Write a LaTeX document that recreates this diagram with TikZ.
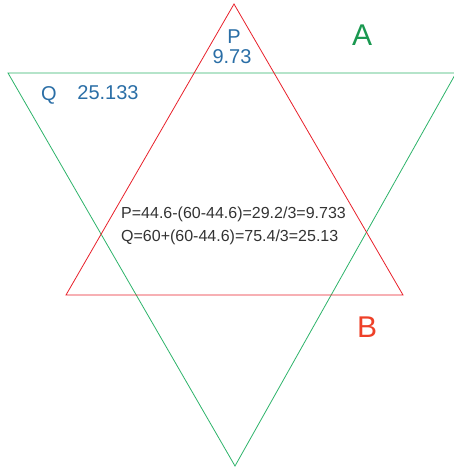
\documentclass[tikz,border=0pt]{standalone}
\usepackage{fontspec}
\setmainfont{Liberation Sans}
\usetikzlibrary{positioning}
\definecolor{stargreen}{HTML}{2DB36A}
\definecolor{starred}{HTML}{E8202A}
\definecolor{lblblue}{HTML}{2A6EA6}
\definecolor{lblgreen}{HTML}{1A9850}
\definecolor{lblred}{HTML}{EE4028}
\definecolor{calcgray}{HTML}{333333}

\begin{document}
\begin{tikzpicture}[
    x=1pt, y=-1pt,
    edge/.style={draw=#1, line width=0.8pt, line join=miter},
    tag/.style={font=\fontsize{30}{30}\selectfont, text=#1, inner sep=0pt},
    val/.style={font=\fontsize{20}{20}\selectfont, text=lblblue, inner sep=0pt},
    calc/.style={font=\fontsize{16}{16}\selectfont, text=calcgray, inner sep=0pt, anchor=west}
]
\useasboundingbox (0,0) rectangle (453,471);

% triangle A, pointing down
\coordinate (a1) at (8,73);
\coordinate (a2) at (456,73);
\coordinate (a3) at (235,466);
\draw[edge=stargreen] (a1) -- (a2) -- (a3) -- cycle;

% triangle B, pointing up
\coordinate (b1) at (234,4);
\coordinate (b2) at (403,295);
\coordinate (b3) at (66,295);
\draw[edge=starred] (b1) -- (b2) -- (b3) -- cycle;

\node[tag=lblgreen] (labA) at (362,35) {A};
\node[tag=lblred]   (labB) at (367,327) {B};

\node[val] (labP)  at (234,37) {P};
\node[val] (valP)  at (232,57) {9.73};
\node[val] (labQ)  at (49,95)  {Q};
\node[val] (valQ)  at (108,93) {25.133};

\node[calc] (calcP) at (121,214) {P=44.6-(60-44.6)=29.2/3=9.733};
\node[calc] (calcQ) at (121,237) {Q=60+(60-44.6)=75.4/3=25.13};
\end{tikzpicture}
\end{document}
